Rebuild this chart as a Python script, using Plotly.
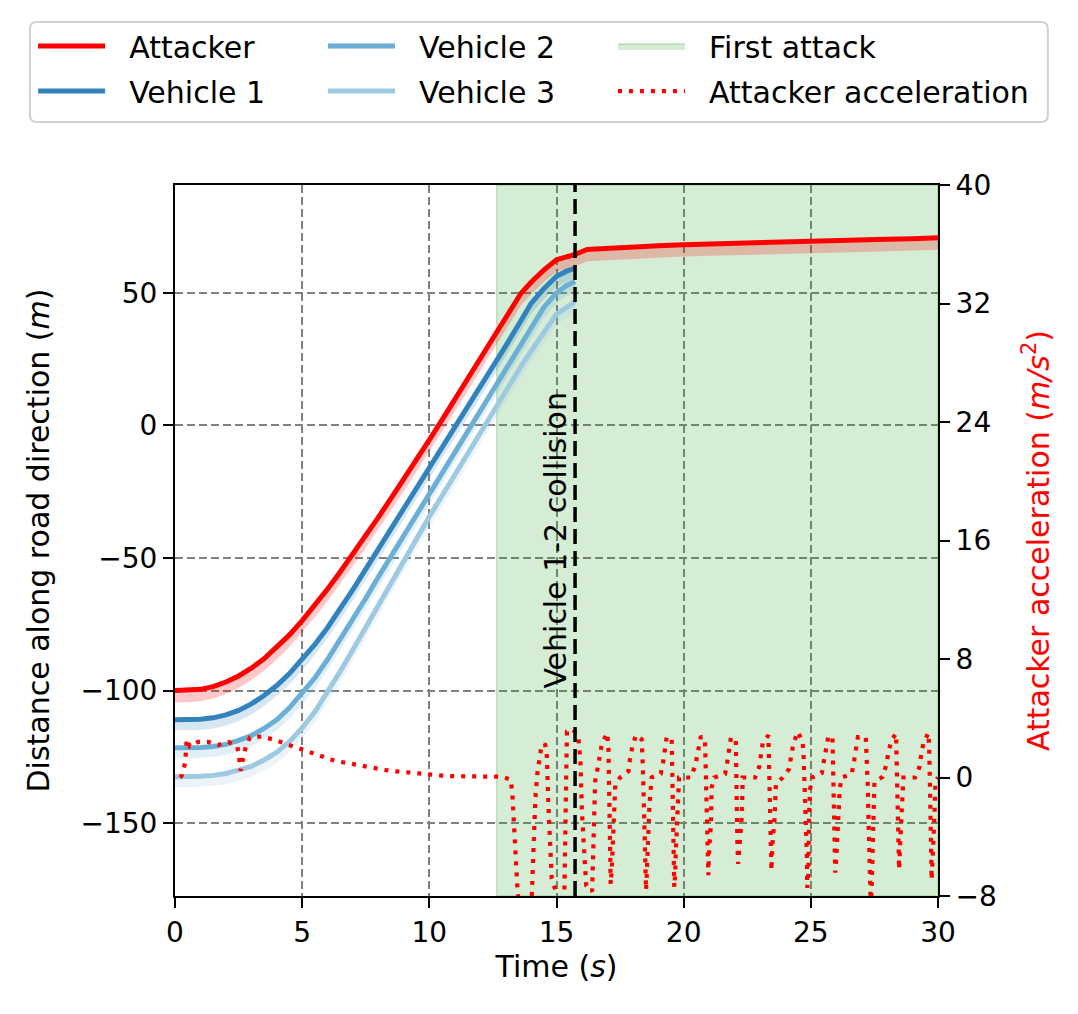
import plotly.graph_objects as go

# ---- data ----
veh_t = [0, 0.5, 1, 1.5, 2, 2.5, 3, 3.5, 4, 4.5, 5, 5.5, 6, 6.5, 7, 7.5, 8, 8.5, 9, 9.5,
         10, 10.5, 11, 11.5, 12, 12.5, 13, 13.6, 14, 14.5, 15, 15.4, 15.73]

attacker_t = veh_t + [16.2, 17, 18, 19, 20, 21, 22, 23, 24, 25, 26, 27, 28, 29, 30]
attacker_pos = [-100, -99.95, -99.55, -98.5, -96.8, -94.5, -91.55, -88.0, -83.8, -79.0,
                -73.6, -67.8, -61.7, -55.2, -48.5, -41.6, -34.6, -27.4, -20.3, -12.9,
                -5.4, 2.1, 9.7, 17.3, 25.0, 32.7, 40.4, 49.8, 54.0, 58.6, 62.5, 63.6, 64.5,
                66.4, 66.9, 67.3, 67.8, 68.2, 68.5, 68.7, 68.9, 69.2, 69.5, 69.7, 69.9, 70.2,
                70.4, 70.8]

vehicle1_pos = [-111, -110.95, -110.85, -110.3, -109.2, -107.5, -105.05, -101.9, -98.1, -93.6,
                -88.4, -82.6, -76.2, -69.2, -61.8, -54.2, -46.6, -38.9, -31.4, -23.7,
                -16.0, -8.4, -0.8, 6.8, 14.5, 22.2, 29.9, 39.5, 46.0, 51.6, 56.3, 58.2, 59.3]

vehicle2_pos = [-121.6, -121.6, -121.45, -121.1, -120.3, -118.8, -117.0, -114.3, -111.0, -106.5,
                -101.1, -95.2, -88.2, -80.8, -73.0, -65.2, -57.1, -49.3, -41.3, -33.4,
                -25.4, -17.6, -9.8, -2.1, 5.8, 13.6, 21.4, 30.8, 36.5, 44.5, 50.0, 52.8, 54.3]

vehicle3_pos = [-132.5, -132.5, -132.3, -132.0, -131.3, -130.0, -128.6, -126.2, -123.3, -119.3,
                -114.1, -108.0, -100.7, -92.7, -84.5, -76.1, -67.6, -59.0, -50.8, -42.4,
                -34.4, -26.5, -18.5, -10.8, -2.8, 5.0, 12.9, 22.3, 28.0, 35.1, 42.0, 44.6, 46.7]

# spread of the shaded band under each trajectory (m)
spreads = {"Attacker": 4.5, "Vehicle 1": 4.0, "Vehicle 2": 4.0, "Vehicle 3": 4.0}

accel_t = [0.2, 0.26, 0.4, 0.46, 0.58, 0.9, 1.3, 1.7, 2.1, 2.45, 2.52, 2.58, 2.7, 2.8, 2.95,
           3.4, 3.86, 4.33, 4.78, 5.23, 5.7, 6.16, 6.6, 7.07, 7.6, 8.06, 8.52, 9.05, 9.5,
           9.96, 10.5, 10.9, 11.4, 11.9, 12.4, 12.88, 13.2, 13.26, 13.47, 13.75, 14.03, 14.12,
           14.17, 14.25, 14.31, 14.39, 14.55, 14.62, 14.68, 14.76, 14.81, 14.96, 15.12, 15.31,
           15.36, 15.41, 15.66, 15.86, 15.94, 16.0, 16.11, 16.17, 16.4, 16.41, 16.48, 16.52,
           16.62, 16.7, 16.78, 16.99, 17.04, 17.08, 17.13, 17.17, 17.24, 17.31, 17.5, 17.83,
           17.89, 17.98, 18.12, 18.35, 18.4, 18.45, 18.52, 18.55, 18.6, 18.65, 18.74, 19.1,
           19.2, 19.27, 19.33, 19.53, 19.55, 19.57, 19.6, 19.63, 19.66, 19.69, 19.73, 19.77,
           19.82, 20.28, 20.45, 20.54, 20.62, 20.68, 20.84, 20.86, 20.88, 20.92, 20.97, 21.0,
           21.07, 21.09, 21.1, 21.2, 21.63, 21.72, 21.77, 21.86, 22.05, 22.06, 22.09, 22.11,
           22.14, 22.22, 22.26, 22.29, 22.31, 22.32, 22.81, 22.98, 23.04, 23.11, 23.33, 23.36,
           23.38, 23.41, 23.45, 23.49, 23.57, 23.61, 23.63, 23.9, 24.15, 24.22, 24.31, 24.48,
           24.67, 24.71, 24.75, 24.8, 24.84, 24.86, 24.9, 24.93, 24.97, 25.06, 25.43, 25.52,
           25.59, 25.69, 25.85, 25.87, 25.89, 25.92, 25.94, 25.96, 26.02, 26.06, 26.11, 26.14,
           26.22, 26.61, 26.7, 26.78, 26.85, 27.16, 27.22, 27.24, 27.26, 27.28, 27.29, 27.31,
           27.36, 27.4, 27.42, 27.44, 27.46, 27.5, 27.83, 27.96, 28.05, 28.16, 28.35, 28.36,
           28.37, 28.39, 28.42, 28.44, 28.47, 28.51, 28.56, 28.62, 28.64, 29.1, 29.27, 29.34,
           29.43, 29.62, 29.65, 29.68, 29.71, 29.73, 29.75, 29.86, 29.9, 30.0]
accel_a = [0.0, 0.1, 1.0, 2.6, 2.1, 2.4, 2.4, 2.2, 2.4, 2.1, 1.35, 0.45, 1.45, 2.2, 2.7,
           2.77, 2.57, 2.3, 2.0, 1.78, 1.5, 1.2, 1.03, 0.87, 0.7, 0.6, 0.43, 0.36, 0.27,
           0.2, 0.13, 0.09, 0.09, 0.05, 0.05, 0.05, -0.15, -1.0, -7.7, -12.0, -7.9, -3.85,
           -1.37, 0.3, 1.1, 1.94, 2.3, 1.44, -1.8, -5.2, -6.8, -7.6, -10.0, -7.7,
           -1.0, 3.1, 3.24, 2.68, 1.1, -2.3, -5.65, -7.3, -7.7, -6.8, -1.8, -0.25,
           0.65, 1.44, 2.23, 3.0, 2.23, -1.87, -7.2, -6.3, -3.06, -0.54, 0.0, 0.43,
           1.26, 2.07, 2.86, 2.57, 0.5, -3.5, -7.6, -6.5, -4.0, -2.0, 0.0, 0.25,
           1.1, 1.9, 2.72, 2.63, 1.0, -1.5, -3.3, -7.4, -6.7, -5.0, -3.4, -1.7,
           0.0, 0.0, 0.77, 1.55, 2.4, 2.79, 2.45, 0.77, -1.7, -3.35, -6.6, -4.9,
           -3.2, -1.55, -0.7, 0.0, 0.25, 1.1, 1.9, 2.72, 2.5, 0.8, -1.67, -4.2,
           -5.83, -4.2, -3.35, -2.5, -0.88, 0.0, 0.0, 0.77, 1.55, 2.34, 2.86, 1.15,
           -1.37, -3.85, -6.28, -4.5, -2.9, -1.2, -0.4, 0.0, 0.59, 1.4, 2.23, 3.08,
           2.5, 1.67, 0.0, -2.45, -5.0, -7.45, -6.5, -2.45, -0.8, 0.0, 0.3, 1.17,
           2.0, 2.79, 2.72, 1.03, -1.42, -3.06, -4.75, -6.43, -4.75, -3.17, -1.55, -0.7,
           0.0, 0.25, 1.1, 1.9, 2.72, 2.72, 1.03, -0.6, -2.28, -3.9, -5.6, -7.2,
           -9.0, -7.0, -5.2, -3.6, -1.94, -0.3, 0.05, 0.83, 1.67, 2.5, 2.95, 2.1,
           0.43, -1.26, -2.9, -4.57, -6.2, -4.57, -2.55, -0.88, 0.0, 0.0, 0.72, 1.55,
           2.34, 3.0, 2.23, -0.25, -2.7, -5.25, -6.9, -2.7, -0.25, 0.0]

attack_start = 12.65
collision_t = 15.73
y_limits = [-177.5, 90.7]
acc_limits = [-8, 40]

colors = {"Attacker": "#ff0000", "Vehicle 1": "#3182bd",
          "Vehicle 2": "#6baed6", "Vehicle 3": "#9ecae1"}
band_fill = {"Attacker": "rgba(255,0,0,0.22)", "Vehicle 1": "rgba(49,130,189,0.2)",
             "Vehicle 2": "rgba(107,174,214,0.2)", "Vehicle 3": "rgba(158,202,225,0.2)"}

# legend column each entry sits in (matplotlib ncol=3 layout), and its order inside it
legend_slot = {"Attacker": ("legend", 1), "Vehicle 1": ("legend", 2),
               "Vehicle 2": ("legend2", 1), "Vehicle 3": ("legend2", 2),
               "First attack": ("legend3", 1), "Attacker acceleration": ("legend3", 2)}

FONT = "DejaVu Sans"
TICK_FS = 28
TEXT_FS = 30
PAD = "  "  # gap between legend handle and label

fig = go.Figure()

# first attack span
fig.add_trace(go.Scatter(
    x=[attack_start, 30, 30, attack_start, attack_start],
    y=[y_limits[0], y_limits[0], y_limits[1], y_limits[1], y_limits[0]],
    fill='toself', fillcolor='rgba(44,160,44,0.2)',
    line=dict(color='rgba(44,160,44,0.25)', width=1.5),
    mode='lines', name=PAD + 'First attack', legend=legend_slot["First attack"][0],
    legendrank=legend_slot["First attack"][1], legendgroup='First attack',
    hoverinfo='skip'
))

series = [("Vehicle 3", veh_t, vehicle3_pos), ("Vehicle 2", veh_t, vehicle2_pos),
          ("Vehicle 1", veh_t, vehicle1_pos), ("Attacker", attacker_t, attacker_pos)]

for name, t, pos in series:
    lower = [p - spreads[name] for p in pos]
    # shaded band
    fig.add_trace(go.Scatter(
        x=t + t[::-1], y=pos + lower[::-1],
        fill='toself', fillcolor=band_fill[name],
        line=dict(width=0), mode='lines', showlegend=False, hoverinfo='skip'
    ))
    fig.add_trace(go.Scatter(
        x=t, y=pos, mode='lines', name=PAD + name,
        line=dict(color=colors[name], width=5),
        legend=legend_slot[name][0], legendrank=legend_slot[name][1], legendgroup=name
    ))

fig.add_trace(go.Scatter(
    x=accel_t, y=accel_a, mode='lines', name=PAD + 'Attacker acceleration', yaxis='y2',
    line=dict(color='red', width=4.2, dash='4px,7px'),
    legend=legend_slot["Attacker acceleration"][0],
    legendrank=legend_slot["Attacker acceleration"][1], legendgroup='acc'
))

fig.add_shape(type='line', x0=collision_t, x1=collision_t, y0=0, y1=1,
              xref='x', yref='paper', line=dict(color='black', width=3.5, dash='15px,7px'))

fig.add_annotation(x=collision_t, y=-100, xref='x', yref='y', text='Vehicle 1-2 collision',
                   textangle=-90, showarrow=False, xanchor='right', yanchor='bottom',
                   xshift=-1, font=dict(family=FONT, size=TEXT_FS, color='black'))

# legend frame (light grey, rounded corners)
x0, x1, y0, y1 = -0.190, 1.144, 1.0886, 1.2293
rx, ry = 0.009, 0.0095
frame = (f"M{x0 + rx},{y0} L{x1 - rx},{y0} Q{x1},{y0} {x1},{y0 + ry} "
         f"L{x1},{y1 - ry} Q{x1},{y1} {x1 - rx},{y1} L{x0 + rx},{y1} "
         f"Q{x0},{y1} {x0},{y1 - ry} L{x0},{y0 + ry} Q{x0},{y0} {x0 + rx},{y0} Z")
fig.add_shape(type='path', path=frame, xref='paper', yref='paper',
              line=dict(color='#d0d0d0', width=2), fillcolor='rgba(255,255,255,0.8)',
              layer='below')

axis_common = dict(
    showline=True, linecolor='black', linewidth=2, ticks='outside', ticklen=10,
    tickwidth=2, tickcolor='black', tickfont=dict(family=FONT, size=TICK_FS, color='black'),
    zeroline=False,
)

legend_common = dict(orientation='v', yanchor='top', xanchor='left', y=1.232,
                     bgcolor='rgba(0,0,0,0)', borderwidth=0, itemwidth=67,
                     tracegroupgap=3, font=dict(family=FONT, size=TEXT_FS, color='black'))

fig.update_layout(
    width=1070, height=1006,
    margin=dict(l=167, r=140, t=177, b=118),
    paper_bgcolor='white', plot_bgcolor='white',
    font=dict(family=FONT, size=TEXT_FS, color='black'),
    xaxis=dict(range=[0, 30], dtick=5, mirror=True, showgrid=True, gridcolor='#808080',
               gridwidth=1.5, griddash='8px,4px',
               title=dict(text='Time (<i>s</i>)', font=dict(family=FONT, size=TEXT_FS),
                          standoff=8),
               **axis_common),
    yaxis=dict(range=y_limits, tickvals=[-150, -100, -50, 0, 50], mirror=True, showgrid=True,
               gridcolor='#808080', gridwidth=1.5, griddash='8px,4px',
               title=dict(text='Distance along road direction (<i>m</i>)',
                          font=dict(family=FONT, size=TEXT_FS), standoff=22),
               **axis_common),
    yaxis2=dict(range=acc_limits, dtick=8, overlaying='y', side='right', showgrid=False,
                title=dict(text='Attacker acceleration (<i>m/s</i><sup>2</sup>)',
                           font=dict(family=FONT, size=TEXT_FS, color='red'), standoff=32),
                **axis_common),
    legend=dict(x=-0.186, **legend_common),
    legend2=dict(x=0.194, **legend_common),
    legend3=dict(x=0.574, **legend_common),
    showlegend=True,
)

fig.write_html("out.html")
